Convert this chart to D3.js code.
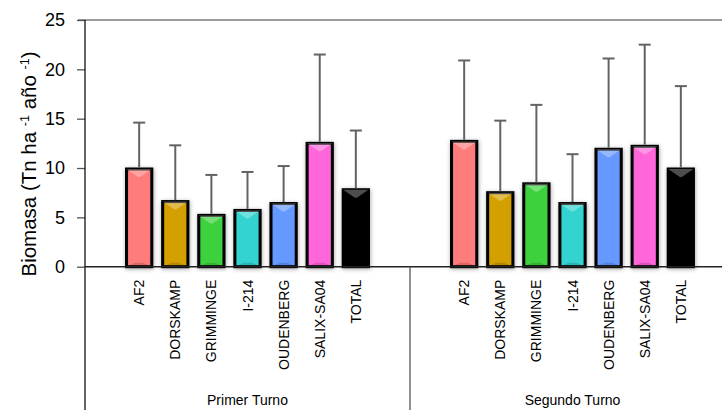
<!DOCTYPE html>
<html>
<head>
<meta charset="utf-8">
<script src="https://cdn.jsdelivr.net/npm/d3@7"></script>
<style>
  html, body { margin: 0; padding: 0; background: #fff; }
  svg { display: block; }
</style>
</head>
<body>
<svg id="chart" width="722" height="412"></svg>
<script>
// Biomass yield by clone, first and second rotation (mean and standard deviation)
const groups = ["Primer Turno", "Segundo Turno"];
const clones = ["AF2", "DORSKAMP", "GRIMMINGE", "I-214", "OUDENBERG", "SALIX-SA04", "TOTAL"];
const meanPrimer = [9.9, 6.6, 5.2, 5.7, 6.4, 12.5, 7.8];
const sdPrimer   = [4.7, 5.7, 4.1, 3.9, 3.8, 9.0, 6.0];
const meanSegundo = [12.7, 7.5, 8.4, 6.4, 11.9, 12.2, 9.9];
const sdSegundo   = [8.2, 7.3, 8.0, 5.0, 9.2, 10.3, 8.4];
const cloneColors = ["#ff7c7c", "#d4a000", "#3cd23c", "#33d3d0", "#6699ff", "#ff66d9", "#060606"];
const yTicks = [0, 5, 10, 15, 20, 25];

const rows = [];
groups.forEach((g, gi) => {
  const means = gi === 0 ? meanPrimer : meanSegundo;
  const sds = gi === 0 ? sdPrimer : sdSegundo;
  clones.forEach((c, ci) => rows.push({ group: g, clone: c, mean: means[ci], sd: sds[ci], color: cloneColors[ci] }));
});

const svg = d3.select("#chart");
const plotLeft = 85, plotTop = 20, base = 266.7, plotRight = 735, plotBottom = 410;
const font = "'Liberation Sans', Arial, sans-serif";

const y = d3.scaleLinear().domain([0, 25]).range([base, plotTop]);
const x0 = d3.scaleBand().domain(groups).range([plotLeft, plotRight]).padding(0);
const pad = 0.3;
const x1 = d3.scaleBand().domain(clones).range([0, x0.bandwidth()])
  .paddingInner(pad).paddingOuter(1 + pad / 2);

// drop shadow for the bars
const defs = svg.append("defs");
const f = defs.append("filter").attr("id", "shadow")
  .attr("x", "-30%").attr("y", "-10%").attr("width", "160%").attr("height", "120%");
f.append("feDropShadow").attr("dx", 0.5).attr("dy", 1).attr("stdDeviation", 2)
  .attr("flood-color", "#000").attr("flood-opacity", 0.35);

// frame line along the top of the plot
svg.append("line").attr("x1", 78).attr("x2", 722).attr("y1", plotTop).attr("y2", plotTop)
  .attr("stroke", "#7a7a7a").attr("stroke-width", 1.5);

// y axis
const yAxis = d3.axisLeft(y).tickValues(yTicks).tickSize(8).tickPadding(12);
const gy = svg.append("g").attr("transform", `translate(${plotLeft},0)`).call(yAxis);
gy.select(".domain").remove();
gy.selectAll(".tick line").attr("stroke", "#555").attr("stroke-width", 1.3);
gy.selectAll(".tick text").attr("font-family", font)
  .attr("font-size", 18).attr("fill", "#000");

// bars
const bars = svg.append("g");
rows.forEach(d => {
  const bx = x0(d.group) + x1(d.clone);
  const w = x1.bandwidth();
  const by = y(d.mean);
  const h = base - by;
  const g = bars.append("g");
  g.append("rect").attr("x", bx).attr("y", by).attr("width", w).attr("height", h)
    .attr("fill", d.color).attr("stroke", "#000").attr("stroke-width", 3)
    .attr("filter", "url(#shadow)");
  const b = Math.min(8, h / 2);
  const bb = Math.min(4, h / 3);
  // bevel: light top facet, darker bottom and side facets
  g.append("polygon")
    .attr("points", [[bx, by], [bx + w, by], [bx + w / 2 + 1, by + b], [bx + w / 2 - 1, by + b]].map(p => p.join(",")).join(" "))
    .attr("fill", "#fff").attr("opacity", 0.3);
  g.append("polygon")
    .attr("points", [[bx, by], [bx + 2, by + 2], [bx + 2, base - 2], [bx, base]].map(p => p.join(",")).join(" "))
    .attr("fill", "#000").attr("opacity", 0.08);
  g.append("polygon")
    .attr("points", [[bx + w, by], [bx + w - 2, by + 2], [bx + w - 2, base - 2], [bx + w, base]].map(p => p.join(",")).join(" "))
    .attr("fill", "#000").attr("opacity", 0.08);
  g.append("polygon")
    .attr("points", [[bx, base], [bx + w, base], [bx + w / 2 + 4, base - bb], [bx + w / 2 - 4, base - bb]].map(p => p.join(",")).join(" "))
    .attr("fill", "#000").attr("opacity", 0.15);
  // upper error bar
  const cx = bx + w / 2;
  const ey = y(d.mean + d.sd);
  g.append("line").attr("x1", cx).attr("x2", cx).attr("y1", by - 1.5).attr("y2", ey)
    .attr("stroke", "#636363").attr("stroke-width", 2);
  g.append("line").attr("x1", cx - 6).attr("x2", cx + 6).attr("y1", ey).attr("y2", ey)
    .attr("stroke", "#636363").attr("stroke-width", 2);
});

// category axis lines
svg.append("line").attr("x1", plotLeft).attr("x2", 722).attr("y1", base).attr("y2", base)
  .attr("stroke", "#222").attr("stroke-width", 1.5);
svg.append("line").attr("x1", plotLeft).attr("x2", plotLeft).attr("y1", plotTop).attr("y2", plotBottom)
  .attr("stroke", "#111").attr("stroke-width", 1.3);
groups.slice(1).forEach(g => {
  svg.append("line").attr("x1", x0(g)).attr("x2", x0(g)).attr("y1", base).attr("y2", plotBottom)
    .attr("stroke", "#555").attr("stroke-width", 1.3);
});

// rotated clone labels
rows.forEach(d => {
  const cx = x0(d.group) + x1(d.clone) + x1.bandwidth() / 2;
  svg.append("text")
    .attr("transform", `translate(${cx + 5},${base + 13}) rotate(-90)`)
    .attr("text-anchor", "end")
    .attr("font-family", font)
    .attr("font-size", 14).attr("fill", "#000")
    .text(d.clone);
});

// group labels
groups.forEach(g => {
  svg.append("text")
    .attr("x", x0(g) + x0.bandwidth() / 2).attr("y", 405)
    .attr("text-anchor", "middle")
    .attr("font-family", font)
    .attr("font-size", 14).attr("fill", "#000")
    .text(g);
});

// y axis title with superscripts
const title = svg.append("text")
  .attr("transform", `translate(36,164) rotate(-90)`)
  .attr("text-anchor", "middle")
  .attr("font-family", font)
  .attr("font-size", 20.5).attr("fill", "#000");
title.append("tspan").text("Biomasa (Tn ha ");
title.append("tspan").attr("font-size", 12.5).attr("baseline-shift", "super").text("-1");
title.append("tspan").text(" año ");
title.append("tspan").attr("font-size", 12.5).attr("baseline-shift", "super").text("-1");
title.append("tspan").text(")");
</script>
</body>
</html>
